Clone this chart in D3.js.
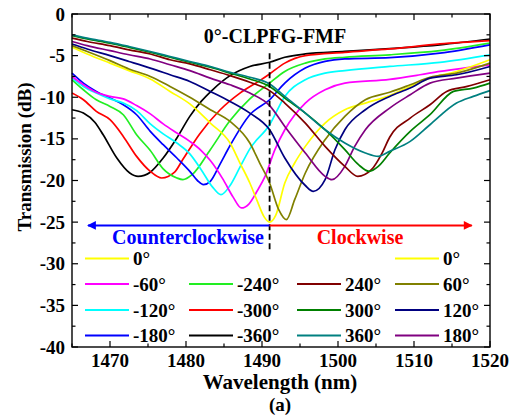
<!DOCTYPE html>
<html>
<head>
<meta charset="utf-8">
<script src="https://cdn.jsdelivr.net/npm/d3@7"></script>
<style>
  body { margin: 0; background: #fff; }
</style>
</head>
<body>
<svg id="chart" width="520" height="419"></svg>
<script>
// Axis ticks
const xMajorTicks = [1470, 1480, 1490, 1500, 1510, 1520];
const yMajorTicks = [0, -5, -10, -15, -20, -25, -30, -35, -40];

// Transmission spectra, [wavelength nm, transmission dB], one per twist angle
const specNeg360 = [[1465,-11.5],[1466.5,-11.9],[1468,-13.0],[1469.1,-14.5],[1470.9,-17.3],[1472.6,-19.1],[1473.7,-19.5],[1475.3,-19.0],[1477,-17.3],[1478.8,-14.9],[1480.5,-12.3],[1482,-10.5],[1483.5,-9.1],[1485.8,-7.4],[1488.4,-6.3],[1491,-5.8],[1493,-5.2],[1495.7,-4.8],[1500.9,-4.5],[1506.8,-4.15],[1513.4,-3.7],[1520,-3.0]];
const specNeg300 = [[1465,-9.5],[1466.5,-10.3],[1468.2,-11.7],[1470,-12.7],[1471.75,-14.7],[1473.5,-17.1],[1475.3,-18.9],[1476.8,-19.7],[1478.5,-19.0],[1479.5,-17.6],[1481.8,-14.4],[1484.5,-11.5],[1487.1,-9.5],[1489.7,-8.0],[1491,-7.2],[1493,-5.9],[1495.7,-5.0],[1500.9,-4.6],[1506.8,-4.2],[1513.4,-3.6],[1520,-3.2]];
const specNeg240 = [[1465,-7.9],[1466.5,-9.1],[1468.2,-10.3],[1470,-11.1],[1471.75,-12.1],[1473.5,-14.5],[1475.3,-16.4],[1477,-18.6],[1478.8,-19.7],[1479.6,-19.9],[1480.8,-19.3],[1483.2,-16.3],[1485.8,-12.8],[1488.4,-10.2],[1491,-8.3],[1493,-6.9],[1495.7,-5.9],[1498.3,-5.4],[1500.9,-5.2],[1506.8,-4.9],[1513.4,-4.4],[1520,-3.5]];
const specNeg180 = [[1465,-7.1],[1466.5,-8.3],[1468.2,-9.3],[1470,-10.1],[1471.75,-10.9],[1473.5,-12.1],[1475.3,-14.1],[1477,-15.7],[1478.8,-17.3],[1480.5,-18.9],[1481.5,-20.0],[1482.3,-20.5],[1483.2,-20.1],[1484.5,-18.0],[1485.8,-15.8],[1488.4,-12.1],[1491,-10.3],[1493,-8.3],[1495.7,-6.5],[1498.3,-5.7],[1500.9,-5.4],[1506.8,-5.25],[1513.4,-4.7],[1520,-3.7]];
const specNeg120 = [[1465,-7.7],[1466.5,-8.7],[1468.2,-9.5],[1470,-10.2],[1471.75,-10.7],[1473.5,-11.6],[1475.3,-13.2],[1477,-14.4],[1478.8,-15.5],[1480.5,-16.8],[1482,-18.7],[1483.5,-20.8],[1484.6,-21.7],[1485.8,-20.6],[1487.1,-18.4],[1488.4,-16.2],[1491,-13.3],[1493,-9.9],[1495.7,-7.9],[1498.3,-7.1],[1500.9,-6.8],[1506.8,-6.3],[1513.4,-5.8],[1520,-4.9]];
const specNeg60 = [[1465,-7.5],[1466.5,-8.5],[1468.2,-9.4],[1470,-9.9],[1471.75,-10.2],[1473.5,-11.0],[1475.3,-12.0],[1477,-13.2],[1478.8,-14.3],[1480.5,-15.3],[1482,-16.4],[1483.2,-17.6],[1484.9,-19.9],[1486.2,-22.0],[1487.3,-23.3],[1488.3,-22.8],[1489.4,-21.2],[1490.4,-19.5],[1491.7,-16.3],[1493,-13.9],[1495.7,-10.7],[1498.3,-9.1],[1500.9,-8.3],[1506.8,-7.85],[1510.8,-7.3],[1513.4,-6.9],[1520,-6.1]];
const spec0 = [[1465,-4.0],[1467,-4.8],[1470,-5.9],[1472.5,-6.8],[1475.3,-7.8],[1477.9,-9.3],[1480.5,-10.8],[1483.2,-13.1],[1485.8,-15.5],[1487.1,-17.9],[1488.4,-20.3],[1489.3,-22.3],[1490.3,-24.4],[1491,-25.0],[1491.8,-24.2],[1493,-20.3],[1494.3,-17.9],[1495.7,-15.9],[1498.3,-13.1],[1500.9,-11.5],[1503.6,-10.7],[1506.8,-9.8],[1509.5,-8.7],[1512.1,-7.7],[1515.6,-6.9],[1520,-5.5]];
const spec60 = [[1465,-3.8],[1467,-4.5],[1470,-5.6],[1472.5,-6.6],[1475.3,-7.5],[1477.9,-8.7],[1480.5,-10.0],[1483.2,-11.5],[1485.8,-12.9],[1488.4,-15.5],[1489.7,-17.9],[1491,-20.3],[1492.2,-23.5],[1493.2,-24.7],[1494.3,-22.3],[1495.7,-19.1],[1498.3,-15.1],[1500.9,-12.3],[1503.6,-10.3],[1506.8,-9.4],[1509.5,-8.5],[1512.1,-7.6],[1515.6,-7.1],[1520,-5.9]];
const spec120 = [[1465,-3.6],[1467,-4.2],[1470,-5.0],[1472.5,-5.7],[1475.3,-6.5],[1477.9,-7.3],[1480.5,-8.1],[1483.2,-9.3],[1485.8,-10.5],[1488.4,-11.9],[1491,-13.9],[1493,-17.3],[1495.7,-20.6],[1496.75,-21.3],[1498.3,-19.9],[1499.6,-16.3],[1500.9,-13.9],[1503.6,-11.5],[1506.8,-9.9],[1509.5,-8.9],[1512.1,-7.7],[1515.6,-7.3],[1520,-6.3]];
const spec180 = [[1465,-3.3],[1467,-3.8],[1470,-4.4],[1472.5,-4.9],[1475.3,-5.4],[1477.9,-6.1],[1480.5,-6.8],[1483.2,-7.7],[1485.8,-8.5],[1488.4,-9.5],[1491,-11.0],[1493,-13.5],[1495.7,-16.7],[1498.3,-19.5],[1499.2,-19.9],[1500.9,-18.3],[1502.2,-15.9],[1503.6,-13.9],[1506.8,-11.3],[1509.5,-9.7],[1512.1,-8.3],[1515.6,-7.7],[1520,-7.1]];
const spec240 = [[1465,-2.9],[1467,-3.3],[1470,-3.8],[1472.5,-4.3],[1475.3,-4.8],[1477.9,-5.5],[1480.5,-6.0],[1483.2,-6.7],[1485.8,-7.4],[1488.4,-8.2],[1491,-9.2],[1493,-10.7],[1495.7,-13.1],[1498.3,-15.9],[1500.9,-18.3],[1502.6,-19.5],[1504.4,-18.7],[1505.8,-16.7],[1506.8,-14.8],[1509.5,-12.5],[1512.1,-10.9],[1514.3,-9.3],[1517,-8.7],[1520,-7.9]];
const spec300 = [[1465,-2.6],[1467,-3.0],[1470,-3.5],[1472.5,-4.0],[1475.3,-4.6],[1477.9,-5.2],[1480.5,-5.8],[1483.2,-6.4],[1485.8,-7.1],[1488.4,-7.8],[1491,-8.7],[1493,-10.1],[1495.7,-11.9],[1498.3,-13.9],[1500.9,-16.3],[1502.7,-18.1],[1504.1,-18.9],[1505.3,-18.3],[1506.8,-16.7],[1509.5,-14.1],[1512.1,-12.1],[1515.2,-9.3],[1517.8,-8.9],[1520,-8.3]];
const spec360 = [[1465,-2.5],[1467,-2.9],[1470,-3.4],[1472.5,-3.9],[1475.3,-4.5],[1477.9,-5.1],[1480.5,-5.7],[1483.2,-6.3],[1485.8,-7.0],[1488.4,-7.6],[1491,-8.4],[1493,-9.9],[1495.7,-11.9],[1498.3,-13.9],[1500.9,-15.5],[1503.6,-16.7],[1505.3,-17.1],[1506.8,-16.5],[1509.5,-15.3],[1512.1,-13.3],[1515.6,-10.7],[1517.8,-9.9],[1520,-9.2]];

// Twist angle labels and their spectra
const angleLabels = ["-360°","-300°","-240°","-180°","-120°","-60°","0°","60°","120°","180°","240°","300°","360°"];
const spectra = [specNeg360, specNeg300, specNeg240, specNeg180, specNeg120, specNeg60, spec0, spec60, spec120, spec180, spec240, spec300, spec360];
const lineColors = ["#000000","#ff0000","#22ee22","#0000ff","#00ffff","#ff00ff","#ffff00","#808000","#000080","#800080","#800000","#008000","#008080"];

// Legend grid: four columns, top to bottom (null = empty slot)
const legendColumns = [
  ["0°", "-60°", "-120°", "-180°"],
  [null, "-240°", "-300°", "-360°"],
  [null, "240°", "300°", "360°"],
  ["0°", "60°", "120°", "180°"]
];

const dipCenter = 1491;      // wavelength of the 0° resonance (dashed marker)
const arrowLevel = -25.4;    // dB level of the direction arrows

const FONT = "'Liberation Serif', 'DejaVu Serif', 'Noto Serif', 'Times New Roman', Times, 'Nimbus Roman', FreeSerif, serif";
const svg = d3.select("#chart")
  .attr("font-family", FONT)
  .attr("font-weight", "bold")
  .style("font-family", FONT)
  .style("font-weight", "bold");
const margin = { left: 72, right: 30, top: 14, bottom: 72 };
const W = 520, H = 419;
const x = d3.scaleLinear().domain([1465, 1520]).range([margin.left, W - margin.right]);
const y = d3.scaleLinear().domain([0, -40]).range([margin.top, H - margin.bottom]);

const colorOf = d3.scaleOrdinal().domain(angleLabels).range(lineColors);

// Spectra
const line = d3.line().x(d => x(d[0])).y(d => y(d[1])).curve(d3.curveMonotoneX);
const plot = svg.append("g");
plot.selectAll("path.spec")
  .data(spectra.map((v, i) => ({ label: angleLabels[i], values: v })))
  .join("path")
  .attr("class", "spec")
  .attr("fill", "none")
  .attr("stroke", d => colorOf(d.label))
  .attr("stroke-width", 1.7)
  .attr("stroke-linejoin", "round")
  .attr("d", d => line(d.values));

// Axes with inward ticks on all four sides
const xMinor = d3.range(1465, 1520.1, 5);
const yMinor = d3.range(0, -40.1, -2.5);
const axG = svg.append("g").attr("stroke", "#000").attr("stroke-width", 1.2);
function tickLen(isMajor) { return isMajor ? 6 : 3.5; }
xMinor.forEach(v => {
  const major = xMajorTicks.includes(v);
  const L = tickLen(major);
  axG.append("line").attr("x1", x(v)).attr("x2", x(v)).attr("y1", y(-40)).attr("y2", y(-40) - L);
  axG.append("line").attr("x1", x(v)).attr("x2", x(v)).attr("y1", y(0)).attr("y2", y(0) + L);
});
yMinor.forEach(v => {
  const major = yMajorTicks.includes(v);
  const L = tickLen(major);
  axG.append("line").attr("y1", y(v)).attr("y2", y(v)).attr("x1", x(1465)).attr("x2", x(1465) + L);
  axG.append("line").attr("y1", y(v)).attr("y2", y(v)).attr("x1", x(1520)).attr("x2", x(1520) - L);
});
svg.append("rect")
  .attr("x", x(1465)).attr("y", y(0))
  .attr("width", x(1520) - x(1465)).attr("height", y(-40) - y(0))
  .attr("fill", "none").attr("stroke", "#000").attr("stroke-width", 1.4);

// Tick labels
svg.append("g").selectAll("text").data(xMajorTicks).join("text")
  .attr("x", d => x(d)).attr("y", y(-40) + 20)
  .attr("text-anchor", "middle").attr("font-size", 19)
  .text(d => d);
svg.append("g").selectAll("text").data(yMajorTicks).join("text")
  .attr("x", x(1465) - 7).attr("y", d => y(d) + 6.5)
  .attr("text-anchor", "end").attr("font-size", 19)
  .text(d => d);

// Axis titles
svg.append("text").attr("x", (x(1465) + x(1520)) / 2 - 1).attr("y", 389)
  .attr("text-anchor", "middle").attr("font-size", 21).text("Wavelength (nm)");
svg.append("text").attr("x", (x(1465) + x(1520)) / 2 - 1).attr("y", 411)
  .attr("text-anchor", "middle").attr("font-size", 19).text("(a)");
svg.append("text")
  .attr("transform", `translate(31, 157) rotate(-90)`)
  .attr("text-anchor", "middle").attr("font-size", 19).text("Transmission (dB)");

// Fiber label
svg.append("text").attr("x", 275).attr("y", 43)
  .attr("text-anchor", "middle").attr("font-size", 20).text("0°-CLPFG-FMF");

// Dashed marker at the 0° resonance
svg.append("line")
  .attr("x1", x(dipCenter)).attr("x2", x(dipCenter))
  .attr("y1", y(-4.7)).attr("y2", y(-28.5))
  .attr("stroke", "#000").attr("stroke-width", 1.8)
  .attr("stroke-dasharray", "6,3.5");

// Direction arrows
const defs = svg.append("defs");
[["arrBlue", "#0000ff"], ["arrRed", "#ff0000"]].forEach(([id, c]) => {
  defs.append("marker").attr("id", id)
    .attr("viewBox", "0 0 10 10").attr("refX", 9).attr("refY", 5)
    .attr("markerWidth", 5).attr("markerHeight", 4.4)
    .attr("markerUnits", "strokeWidth").attr("orient", "auto")
    .append("path").attr("d", "M0,0 L10,5 L0,10 Z").attr("fill", c);
});
svg.append("line")
  .attr("x1", x(dipCenter)).attr("x2", x(1467.1))
  .attr("y1", y(arrowLevel)).attr("y2", y(arrowLevel))
  .attr("stroke", "#0000ff").attr("stroke-width", 2)
  .attr("marker-end", "url(#arrBlue)");
svg.append("line")
  .attr("x1", x(dipCenter)).attr("x2", x(1517.6))
  .attr("y1", y(arrowLevel)).attr("y2", y(arrowLevel))
  .attr("stroke", "#ff0000").attr("stroke-width", 2)
  .attr("marker-end", "url(#arrRed)");
svg.append("text").attr("x", 188).attr("y", 244)
  .attr("text-anchor", "middle").attr("font-size", 20).attr("fill", "#0000ff")
  .text("Counterclockwise");
svg.append("text").attr("x", 360).attr("y", 244)
  .attr("text-anchor", "middle").attr("font-size", 20).attr("fill", "#ff0000")
  .text("Clockwise");

// Legend
const colX = [85, 189, 297, 395];
const rowY = [258.5, 284, 310, 335.5];
const lg = svg.append("g");
legendColumns.forEach((col, ci) => {
  col.forEach((lab, ri) => {
    if (lab === null) return;
    lg.append("line")
      .attr("x1", colX[ci]).attr("x2", colX[ci] + 44)
      .attr("y1", rowY[ri]).attr("y2", rowY[ri])
      .attr("stroke", colorOf(lab)).attr("stroke-width", 1.8);
    lg.append("text")
      .attr("x", colX[ci] + 48).attr("y", rowY[ri] + 6.5)
      .attr("font-size", 19).text(lab);
  });
});
</script>
</body>
</html>
